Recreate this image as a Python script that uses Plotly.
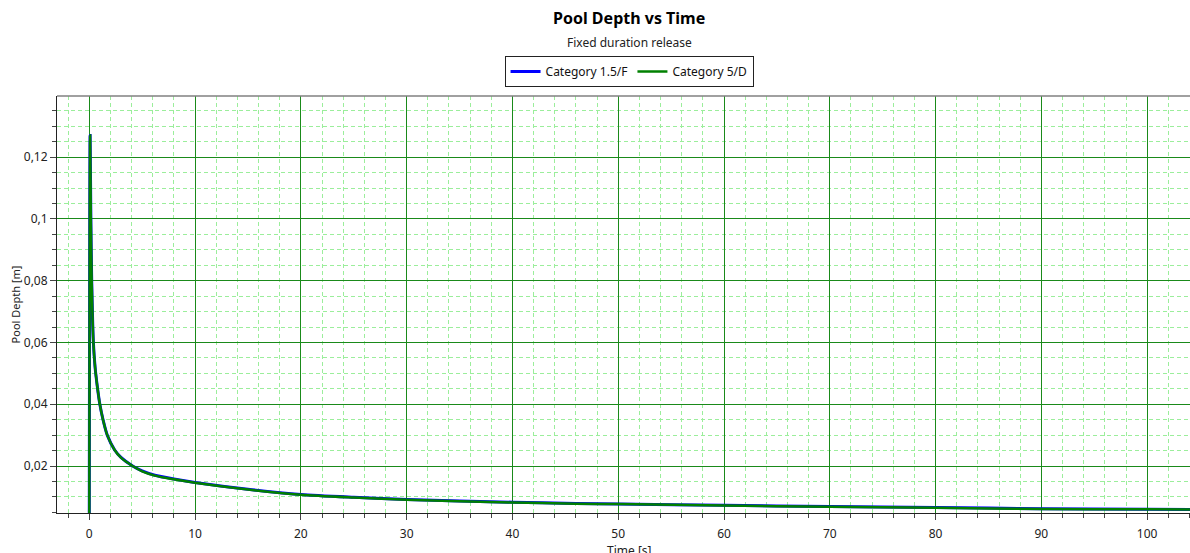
import plotly.graph_objects as go

# ---- data ----
time_s = [0, 0.08, 0.15, 0.23, 0.39, 0.55, 0.75, 1.0, 1.3, 1.7, 2.4, 3, 4.1, 5,
          6.2, 8, 10, 15, 20, 25, 30, 40, 46, 50, 60, 70, 80, 90, 100, 105]
depth_15F = [0, 0.127, 0.100, 0.080, 0.060, 0.052, 0.046, 0.040, 0.035, 0.030,
             0.0252, 0.0228, 0.0200, 0.0184, 0.0170, 0.0158, 0.0147, 0.0125, 0.0108,
             0.0099, 0.0092, 0.0083, 0.0079, 0.0077, 0.0073, 0.0069, 0.0066, 0.0062,
             0.0060, 0.0059]
depth_5D = [0, 0.127, 0.100, 0.080, 0.060, 0.052, 0.046, 0.040, 0.035, 0.030,
            0.0252, 0.0227, 0.0200, 0.0183, 0.0169, 0.0157, 0.0146, 0.0124, 0.0107,
            0.0098, 0.0091, 0.0082, 0.0078, 0.0077, 0.0072, 0.0068, 0.0065, 0.0061,
            0.0060, 0.0059]

title_text = "Pool Depth vs Time"
subtitle_text = "Fixed duration release"
x_title = "Time [s]"
y_title = "Pool Depth [m]"

FONT = "Segoe UI, Noto Sans, Open Sans, sans-serif"

fig = go.Figure()
fig.add_trace(go.Scatter(x=time_s, y=depth_15F, mode="lines", name="Category 1.5/F",
                         line=dict(color="#0000FF", width=3, shape="spline", smoothing=0.7)))
fig.add_trace(go.Scatter(x=time_s, y=depth_5D, mode="lines", name="Category 5/D",
                         line=dict(color="#008000", width=2.5, shape="spline", smoothing=0.7)))

grid_major = "#1A8A1A"
grid_minor = "#9BEE9B"

fig.update_layout(
    width=1190, height=553,
    margin=dict(l=57, r=0, t=96, b=40),
    paper_bgcolor="white", plot_bgcolor="white",
    separators=", ",
    font=dict(family=FONT, size=12, color="#222"),
    showlegend=True,
    hovermode=False,
    legend=dict(orientation="h", x=0.5049, xanchor="center", y=1.096, yanchor="top",
                bordercolor="#222", borderwidth=1, bgcolor="white",
                font=dict(size=12, color="#111"), itemwidth=30,
                tracegroupgap=0),
    annotations=[
        dict(text="<b>" + title_text + "</b>", x=0.5049, xref="paper", y=1.0,
             yref="paper", yshift=78, yanchor="middle", showarrow=False,
             font=dict(size=16, color="#000")),
        dict(text=subtitle_text, x=0.5049, xref="paper", y=1.0, yref="paper",
             yshift=54, yanchor="middle", showarrow=False,
             font=dict(size=12, color="#222")),
        dict(text=x_title, x=0.5049, xref="paper", y=0, yref="paper",
             yshift=-27, yanchor="top", showarrow=False,
             font=dict(size=12, color="#222")),
    ],
    shapes=[dict(type="line", xref="paper", yref="paper", x0=0, x1=1, y0=1, y1=1,
                 line=dict(color="#808080", width=1.5))],
)

fig.update_xaxes(
    range=[-3.05, 104.05], tick0=0, dtick=10, automargin=False,
    showline=True, linecolor="#222", linewidth=1,
    ticks="outside", ticklen=6, tickcolor="#444", tickwidth=1,
    showgrid=True, gridcolor=grid_major, gridwidth=1, zeroline=False,
    minor=dict(dtick=2, tick0=0, ticks="outside", ticklen=4, tickcolor="#444",
               showgrid=True, gridcolor=grid_minor, griddash="4px,3px", gridwidth=1),
    tickfont=dict(size=12, color="#222"),
    ticklabelstandoff=4,
)
fig.update_yaxes(
    range=[0.0048, 0.1398], tick0=0, dtick=0.02, automargin=False,
    showline=True, linecolor="#222", linewidth=1,
    ticks="outside", ticklen=6, tickcolor="#444", tickwidth=1,
    showgrid=True, gridcolor=grid_major, gridwidth=1, zeroline=False,
    minor=dict(dtick=0.005, tick0=0, ticks="outside", ticklen=4, tickcolor="#444",
               showgrid=True, gridcolor=grid_minor, griddash="4px,3px", gridwidth=1),
    tickfont=dict(size=12, color="#222"),
    title=dict(text=y_title, font=dict(size=11, color="#222"), standoff=0),
)

fig.write_html("out.html", config={"displayModeBar": False},
               post_script="document.body.style.margin='0';document.body.style.overflow='hidden';")
